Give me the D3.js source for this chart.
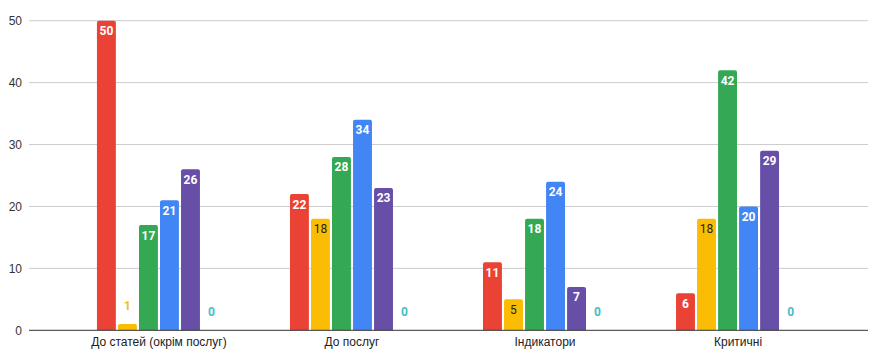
<!DOCTYPE html>
<html><head><meta charset="utf-8">
<script src="https://cdn.jsdelivr.net/npm/d3@7"></script>
<style>body{margin:0;background:#fff;font-family:Roboto,Arial,sans-serif;}</style>
</head><body><svg id="c" width="877" height="361"></svg>
<script>
const categories = ["До статей (окрім послуг)", "До послуг", "Індикатори", "Критичні"];
const seriesNames = ["s1", "s2", "s3", "s4", "s5", "s6"];
const s1 = [50, 22, 11, 6];
const s2 = [1, 18, 5, 18];
const s3 = [17, 28, 18, 42];
const s4 = [21, 34, 24, 20];
const s5 = [26, 23, 7, 29];
const s6 = [0, 0, 0, 0];
const yTicks = [0, 10, 20, 30, 40, 50];
const colors = ["#ea4335", "#fbbc04", "#34a853", "#4285f4", "#674ea7", "#46bdc6"];
const insideText = ["#fff", "#222", "#fff", "#fff", "#fff", "#fff"];
const series = [s1, s2, s3, s4, s5, s6];

const svg = d3.select("#c");
const pLeft = 29, pRight = 868, pTop = 20.7, pBottom = 330.3;
const y = d3.scaleLinear().domain([0, 50]).range([pBottom, pTop]);
const x0 = d3.scaleBand().domain(categories).range([pLeft, pRight]).paddingInner(0.3575).paddingOuter(0.352);
const x1 = d3.scaleBand().domain(seriesNames).range([0, x0.bandwidth()]).paddingInner(0.1);

// gridlines
svg.append("g").selectAll("line").data(yTicks.filter(d => d > 0)).join("line")
  .attr("x1", pLeft).attr("x2", pRight)
  .attr("y1", d => y(d)).attr("y2", d => y(d))
  .attr("stroke", "#cccccc").attr("stroke-width", 1);

// y labels
svg.append("g").selectAll("text").data(yTicks).join("text")
  .attr("x", 22).attr("y", d => y(d) + 4.5)
  .attr("text-anchor", "end").attr("font-size", 12).attr("fill", "#333")
  .attr("font-family", "Arial, 'Liberation Sans', sans-serif")
  .text(d => d);

const barPath = (x, yt, w, h) => {
  const r = Math.min(2, h);
  if (h <= 0) return "";
  return `M${x},${yt + h}V${yt + r}Q${x},${yt} ${x + r},${yt}H${x + w - r}Q${x + w},${yt} ${x + w},${yt + r}V${yt + h}Z`;
};

const g = svg.append("g");
categories.forEach((cat, ci) => {
  series.forEach((vals, si) => {
    const v = vals[ci];
    const bx = x0(cat) + x1(seriesNames[si]);
    const bw = x1.bandwidth();
    const yt = y(v), h = y(0) - y(v);
    g.append("path").attr("d", barPath(bx, yt, bw, h)).attr("fill", colors[si]);
    const inside = h >= 20;
    g.append("text")
      .attr("x", bx + bw / 2)
      .attr("y", inside ? yt + 14.5 : yt - 14.5)
      .attr("text-anchor", "middle")
      .attr("font-size", 12)
      .attr("font-weight", inside && si === 1 ? "normal" : "bold")
      .attr("fill", inside ? insideText[si] : colors[si])
      .text(v);
  });
});

// baseline
svg.append("line").attr("x1", pLeft).attr("x2", pRight)
  .attr("y1", y(0)).attr("y2", y(0)).attr("stroke", "#333").attr("stroke-width", 1);

// category labels
svg.append("g").selectAll("text").data(categories).join("text")
  .attr("x", d => x0(d) + x0.bandwidth() / 2).attr("y", 346)
  .attr("text-anchor", "middle").attr("font-size", 12).attr("fill", "#222")
  .attr("font-family", "Arial, 'Liberation Sans', sans-serif")
  .text(d => d);
</script></body></html>
